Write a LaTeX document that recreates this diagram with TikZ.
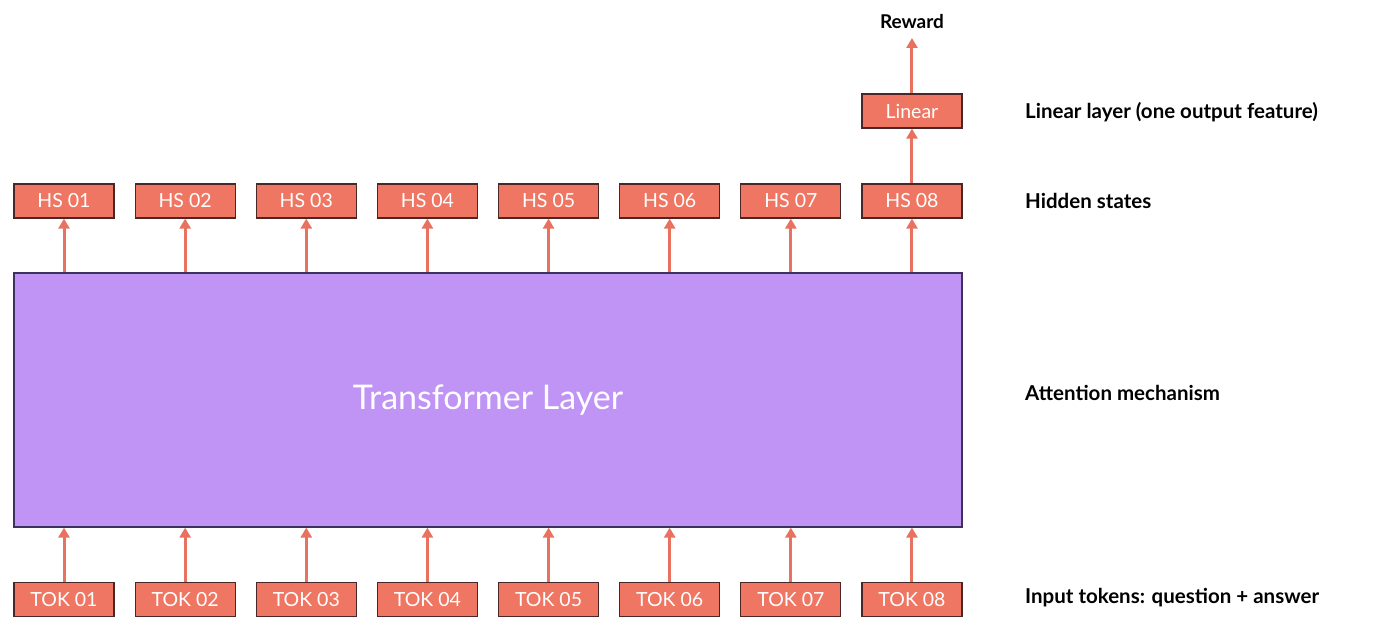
\documentclass[tikz,border=0pt]{standalone}
\usepackage{fontspec}
\setmainfont{Lato}
\usetikzlibrary{arrows.meta}
\definecolor{salm}{HTML}{EF7662}
\definecolor{boxline}{HTML}{4A2626}
\definecolor{purp}{HTML}{C094F5}
\definecolor{purpline}{HTML}{3E3160}
\definecolor{arr}{HTML}{E8725F}
\tikzset{
  ebox/.style={rectangle, draw=boxline, fill=salm, line width=1.2pt, minimum width=100pt, minimum height=34pt, inner sep=0pt, text=white, font=\fontsize{19.5}{21}\selectfont},
  uparrow/.style={draw=arr, line width=3pt, -{Triangle[width=11pt,length=10pt]}},
  sidelabel/.style={anchor=west, font=\bfseries\fontsize{20.5}{22}\selectfont, text=black, inner sep=0pt}
}
\begin{document}
\begin{tikzpicture}[x=1pt,y=-1pt]
\useasboundingbox (0,0) rectangle (1385,631);
\node[rectangle, draw=purpline, fill=purp, line width=1.2pt, minimum width=948pt, minimum height=254pt, inner sep=0pt, text=white, font=\fontsize{34}{38}\selectfont] (tl) at (488,400) {Transformer Layer};
\foreach \i in {1,...,8} {
  \pgfmathsetmacro{\cx}{64+121.14*(\i-1)}
  \node[ebox] (hs\i) at (\cx,201) {HS 0\i};
  \node[ebox] (tok\i) at (\cx,599.5) {TOK 0\i};
  \draw[uparrow] (tok\i.north) -- (tok\i.north |- tl.south);
  \draw[uparrow] (hs\i.south |- tl.north) -- (hs\i.south);
}
\node[ebox, anchor=center] (lin) at (hs8.center |- 0,111) {Linear};
\node[font=\bfseries\fontsize{19}{20}\selectfont, inner sep=0pt] (rew) at (hs8.center |- 0,22) {Reward};
\draw[uparrow] (hs8.north) -- (lin.south);
\coordinate (rtop) at (hs8.center |- 0,38);
\draw[uparrow] (lin.north) -- (rtop);
\node[sidelabel] (l1) at (1025,112) {Linear layer (one output feature)};
\node[sidelabel] (l2) at (1025,201) {Hidden states};
\node[sidelabel] (l3) at (1025,393) {Attention mechanism};
\node[sidelabel] (l4) at (1025,598) {Input tokens: question + answer};
\end{tikzpicture}
\end{document}
